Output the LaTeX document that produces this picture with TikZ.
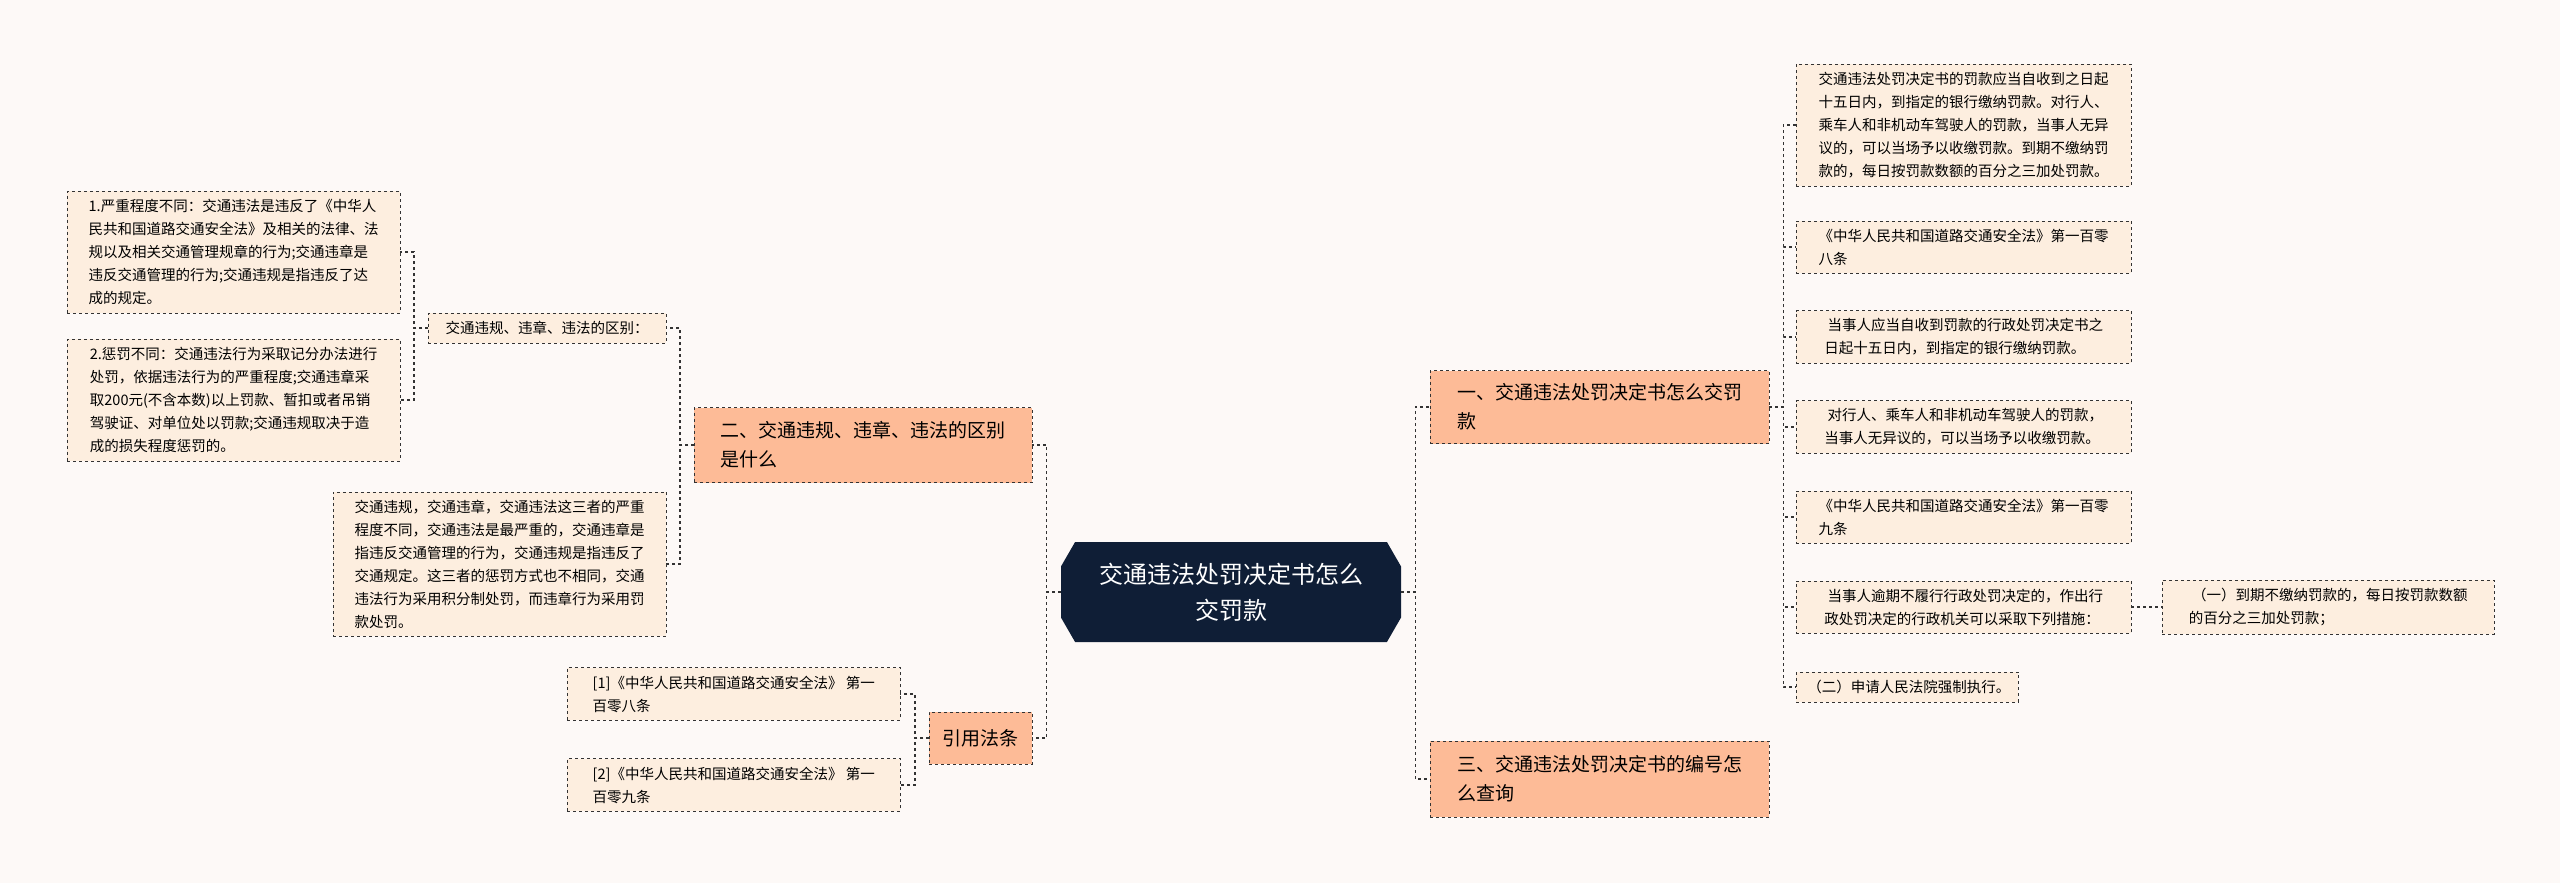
\documentclass[tikz,border=0pt]{standalone}
\usepackage{fontspec}
\setmainfont{Noto Sans CJK SC}
\usetikzlibrary{positioning,calc,shapes.misc}
\definecolor{bgcol}{HTML}{FDF9F7}
\definecolor{rootcol}{HTML}{0F1E36}
\definecolor{branchcol}{HTML}{FDBB97}
\definecolor{leafcol}{HTML}{FDEEDF}
\definecolor{linecol}{HTML}{333333}

\begin{document}
\begin{tikzpicture}
   [x=1pt,y=-1pt,
    root/.style={chamfered rectangle,chamfered rectangle xsep=12pt,
      chamfered rectangle angle=30,fill=rootcol,text=white,
      minimum width=340pt,minimum height=100pt,align=center,
      font=\fontsize{24}{36}\selectfont},
    branch/.style={rectangle,draw=linecol,dashed,fill=branchcol,anchor=west,
      align=left,inner sep=7pt,font=\fontsize{19}{29}\selectfont},
    leaf/.style={rectangle,draw=linecol,dashed,fill=leafcol,anchor=west,
      align=left,inner sep=8pt,font=\fontsize{14.5}{23}\selectfont},
    link/.style={draw=linecol,dashed,line width=1.2pt}]

\useasboundingbox [fill=bgcol] (0,0) rectangle (2560,883);

\node [root] (root) at (1231,592) {交通违法处罚决定书怎么\\交罚款};

% right side
\node [branch,minimum width=339pt,minimum height=73pt] (pay) at (1430,407) {一、交通违法处罚决定书怎么交罚\\款};
\node [branch,minimum width=339pt,minimum height=76pt] (query) at (1430,779) {三、交通违法处罚决定书的编号怎\\么查询};

\node [leaf,minimum width=335pt] (p1) at (1796,125) {交通违法处罚决定书的罚款应当自收到之日起\\十五日内，到指定的银行缴纳罚款。对行人、\\乘车人和非机动车驾驶人的罚款，当事人无异\\议的，可以当场予以收缴罚款。到期不缴纳罚\\款的，每日按罚款数额的百分之三加处罚款。};
\node [leaf,minimum width=335pt] (p2) at (1796,247) {《中华人民共和国道路交通安全法》第一百零\\八条};
\node [leaf,minimum width=335pt] (p3) at (1796,337) {~当事人应当自收到罚款的行政处罚决定书之\\日起十五日内，到指定的银行缴纳罚款。};
\node [leaf,minimum width=335pt] (p4) at (1796,427) {~对行人、乘车人和非机动车驾驶人的罚款，\\当事人无异议的，可以当场予以收缴罚款。};
\node [leaf,minimum width=335pt] (p5) at (1796,517) {《中华人民共和国道路交通安全法》第一百零\\九条};
\node [leaf,minimum width=335pt] (p6) at (1796,607) {~当事人逾期不履行行政处罚决定的，作出行\\政处罚决定的行政机关可以采取下列措施：};
\node [leaf,minimum width=332pt] (p6a) at (2162,607) {~（一）到期不缴纳罚款的，每日按罚款数额\\的百分之三加处罚款；};
\node [leaf] (p7) at (1796,687) {~（二）申请人民法院强制执行。};

% left side
\node [branch,minimum width=338pt,minimum height=75pt] (diff) at (694,445) {二、交通违规、违章、违法的区别\\是什么};
\node [branch,minimum width=103pt,minimum height=52pt] (cite) at (929,738) {引用法条};

\node [leaf,minimum width=238pt] (dq) at (428,328) {交通违规、违章、违法的区别：};
\node [leaf,minimum width=333pt] (d1) at (67,252) {1.严重程度不同：交通违法是违反了《中华人\\民共和国道路交通安全法》及相关的法律、法\\规以及相关交通管理规章的行为;交通违章是\\违反交通管理的行为;交通违规是指违反了达\\成的规定。};
\node [leaf,minimum width=333pt] (d2) at (67,400) {2.惩罚不同：交通违法行为采取记分办法进行\\处罚，依据违法行为的严重程度;交通违章采\\取200元(不含本数)以上罚款、暂扣或者吊销\\驾驶证、对单位处以罚款;交通违规取决于造\\成的损失程度惩罚的。};
\node [leaf,minimum width=333pt] (dp) at (333,564) {交通违规，交通违章，交通违法这三者的严重\\程度不同，交通违法是最严重的，交通违章是\\指违反交通管理的行为，交通违规是指违反了\\交通规定。这三者的惩罚方式也不相同，交通\\违法行为采用积分制处罚，而违章行为采用罚\\款处罚。};
\node [leaf,minimum width=333pt] (r1) at (567,694) {[1]《中华人民共和国道路交通安全法》 第一\\百零八条};
\node [leaf,minimum width=333pt] (r2) at (567,785) {[2]《中华人民共和国道路交通安全法》 第一\\百零九条};

% connectors
\foreach \t in {pay,query}
  \draw [link] (root.east) -- ++(14,0) |- (\t.west);
\foreach \t in {p1,p2,p3,p4,p5,p6,p7}
  \draw [link] (pay.east) -- ++(14,0) |- (\t.west);
\draw [link] (p6.east) -- (p6a.west);
\foreach \t in {diff,cite}
  \draw [link] (root.west) -- ++(-14,0) |- (\t.east);
\foreach \t in {dq,dp}
  \draw [link] (diff.west) -- ++(-14,0) |- (\t.east);
\foreach \t in {d1,d2}
  \draw [link] (dq.west) -- ++(-14,0) |- (\t.east);
\foreach \t in {r1,r2}
  \draw [link] (cite.west) -- ++(-14,0) |- (\t.east);
\end{tikzpicture}
\end{document}
